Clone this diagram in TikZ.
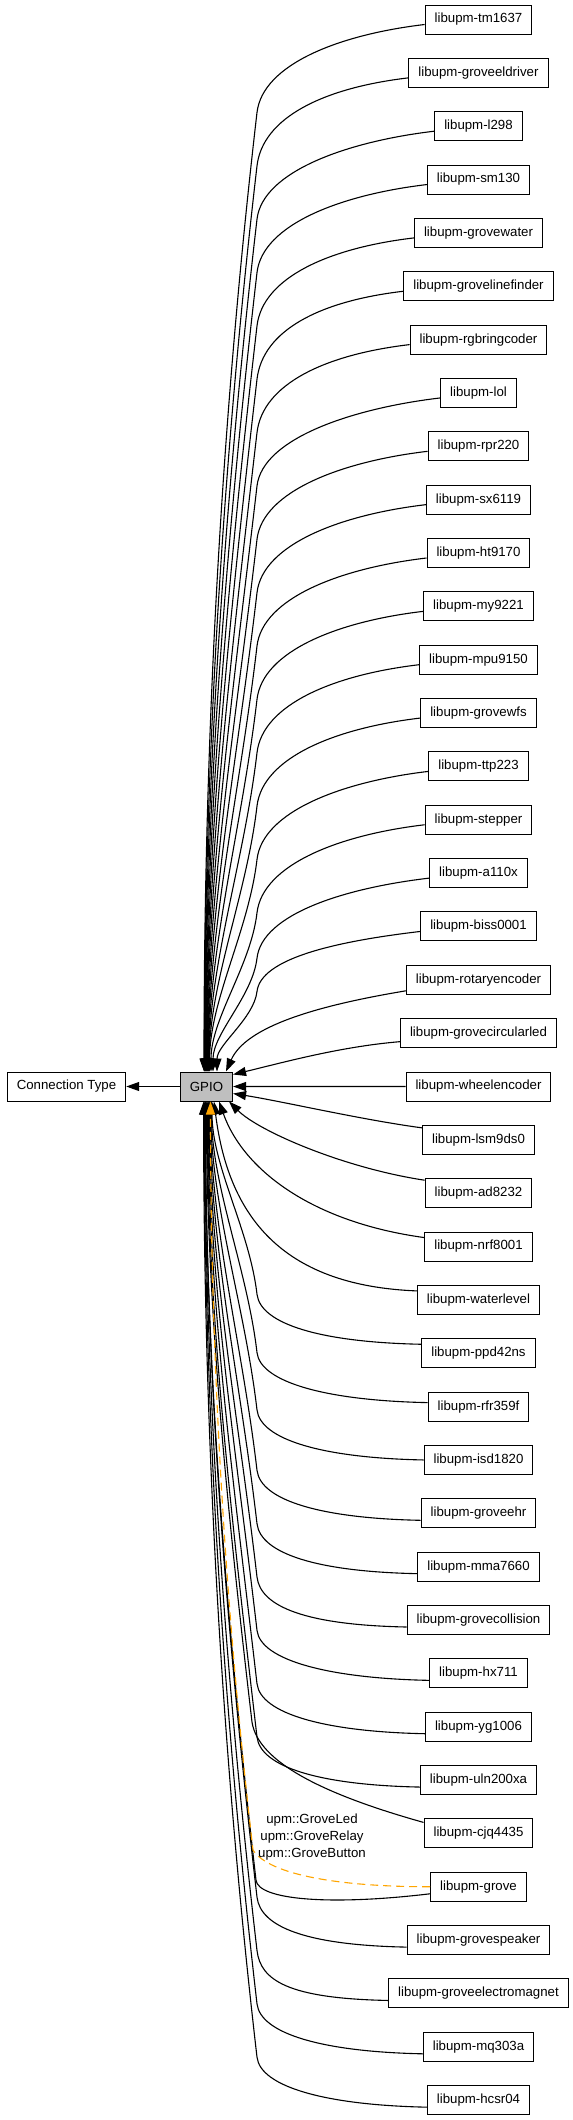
\documentclass[tikz,border=0pt]{standalone}
\usepackage{fontspec}
\setmainfont{Liberation Sans}
\usepackage{tikz}
\usetikzlibrary{calc,arrows.meta,positioning}
\definecolor{gpiogrey}{gray}{0.75}
\definecolor{depedge}{HTML}{FFA500}

\begin{document}
\begin{tikzpicture}[x=1bp,y=-1bp]

\tikzset{libnode/.style={draw,line width=1bp,font=\fontsize{13.3}{16}\selectfont,minimum height=29bp,inner xsep=9.5bp,inner ysep=0pt},
edge/.style={line width=1.1bp,-{Triangle[length=13bp,width=9bp]}},
depline/.style={edge,draw=depedge,dashed,dash pattern=on 8bp off 5bp}}

\useasboundingbox (0,0) rectangle (573,2120);

% Main nodes
\node[libnode,fill=gpiogrey] (gpio) at (206.5,1086.5) {GPIO};
\node[libnode] (conntype) at (66.5,1086.5) {Connection Type};

% Library nodes
\foreach \name [count=\i from 0] in {tm1637,groveeldriver,l298,sm130,grovewater,grovelinefinder,rgbringcoder,lol,rpr220,sx6119,ht9170,my9221,mpu9150,grovewfs,ttp223,stepper,a110x,biss0001,rotaryencoder,grovecircularled,wheelencoder,lsm9ds0,ad8232,nrf8001,waterlevel,ppd42ns,rfr359f,isd1820,groveehr,mma7660,grovecollision,hx711,yg1006,uln200xa,cjq4435,grove,grovespeaker,groveelectromagnet,mq303a,hcsr04}
  \node[libnode] (\name) at (478.5,19.5+53.35*\i) {libupm-\name};

% Edges
\draw[edge] (gpio) -- (conntype);

% upper bundle
\foreach \name/\i/\ex/\drop in {tm1637/0/204/88,groveeldriver/1/204.4/88,l298/2/204.8/88,sm130/3/205.2/88,grovewater/4/205.6/88,grovelinefinder/5/206/88,rgbringcoder/6/206.4/88,lol/7/206.8/88,rpr220/8/207.2/88,sx6119/9/207.6/88,ht9170/10/208/88,my9221/11/208.4/88,mpu9150/12/208.8/88,grovewfs/13/209.2/88,ttp223/14/209.6/88,stepper/15/211/88,a110x/16/213/80,biss0001/17/217/60}{
  \pgfmathsetmacro\ky{19.5+53.35*\i+5+\drop}
  \pgfmathsetmacro\L{1072-\ky}
  \draw[edge] ($(\name.west)+(0,5)$) .. controls +(-85,10) and +(0.064*\drop,-0.55*\drop) .. (257,\ky)
    .. controls +(-0.116*\L/3,\L/3) and +(0,-\L/3) .. ($(gpio.north)+(\ex-206.5,0)$);
}
\draw[edge] ($(rotaryencoder.west)+(0,11)$) .. controls +(-90,15) and +(20,-45) .. ($(gpio.north)+(19.5,0)$);
\draw[edge] ($(grovecircularled.west)+(0,8.5)$) .. controls +(-60,5) and +(50,-12) .. ($(gpio.north east)+(0,3)$);
\draw[edge] (wheelencoder) -- (gpio);

% lower bundle
\draw[edge] ($(lsm9ds0.west)+(0,-12)$) .. controls +(-60,-8) and +(50,8) .. ($(gpio.south east)+(0,-8)$);
\draw[edge] ($(ad8232.west)+(0,-13)$) .. controls +(-80,-12) and +(30,30) .. ($(gpio.south)+(22.5,0)$);
\draw[edge] ($(nrf8001.west)+(0,-9)$) .. controls +(-110,-15) and +(25,70) .. ($(gpio.south)+(12.5,0)$);
\draw[edge] ($(waterlevel.west)+(0,-9)$) .. controls +(-130,-5) and +(15,120) .. ($(gpio.south)+(7.5,0)$);
\foreach \name/\i/\ex/\off in {ppd42ns/25/212/-9,rfr359f/26/211.4/-4,isd1820/27/210.8/0,groveehr/28/210.2/7,mma7660/29/209.6/7,grovecollision/30/209/7,hx711/31/208.4/7,yg1006/32/207.8/7,uln200xa/33/207.2/7,grovespeaker/36/205.4/7,groveelectromagnet/37/204.8/7,mq303a/38/204.2/7,hcsr04/39/203.6/7}{
  \pgfmathsetmacro\ky{19.5+53.35*\i+\off-50}
  \pgfmathsetmacro\L{\ky-1101}
  \draw[edge] ($(\name.west)+(0,\off)$) .. controls +(-100,-2) and +(3.5,30) .. (257,\ky)
    .. controls +(-0.116*\L/3,-\L/3) and +(0,\L/3) .. ($(gpio.south)+(\ex-206.5,0)$);
}
\draw[edge] ($(cjq4435.west)+(0,-11)$) .. controls +(-100,-28) and +(6,40) .. (252,1722)
  .. controls +(-24,-205) and +(0,205) .. ($(gpio.south)+(0,0)$);

% libupm-grove, direct and through the classes
\draw[edge] ($(grove.west)+(0,7)$) .. controls +(-100,12) and +(2,20) .. (256,1880)
  .. controls +(-30,-260) and +(0,260) .. ($(gpio.south)+(-1,0)$);
\draw[depline] (grove.west) .. controls +(-90,0) and +(16,25) .. (253,1850)
  .. controls +(-29,-250) and +(0,250) .. ($(gpio.south)+(4,0)$);
\node[font=\fontsize{13.3}{17}\selectfont,align=center] (grovelabel) at (312,1837) {upm::GroveLed\\upm::GroveRelay\\upm::GroveButton};

\end{tikzpicture}
\end{document}
